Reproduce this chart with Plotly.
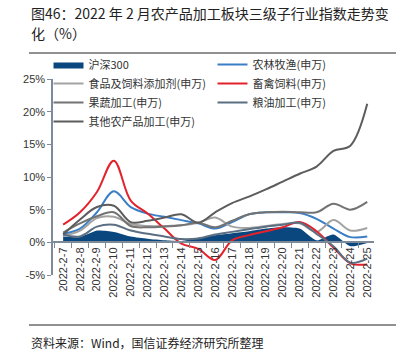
import plotly.graph_objects as go

dates = ["2022-2-7", "2022-2-8", "2022-2-9", "2022-2-10", "2022-2-11", "2022-2-12",
         "2022-2-13", "2022-2-14", "2022-2-15", "2022-2-16", "2022-2-17", "2022-2-18",
         "2022-2-19", "2022-2-20", "2022-2-21", "2022-2-22", "2022-2-23", "2022-2-24",
         "2022-2-25"]

hs300 = [0.9, 0.8, 1.8, 1.6, 0.9, 0.55, 0.3, 0.2, 0.7, 1.1, 1.4, 1.7, 2.1, 2.3, 2.1, 0.3, 1.2, -0.6, -0.1]
nonglin = [1.3, 2.1, 4.6, 7.8, 5.4, 4.4, 3.9, 3.4, 2.9, 2.1, 3.1, 4.3, 4.6, 4.6, 4.5, 3.6, 2.1, 0.8, 0.9]
shipin = [1.0, 1.8, 3.7, 3.9, 2.8, 2.5, 2.5, 2.6, 3.0, 3.8, 2.4, 2.2, 2.5, 2.8, 2.9, 1.6, 3.4, 1.8, 2.2]
chuqin = [2.7, 4.6, 7.7, 12.5, 6.4, 4.4, 2.1, -0.2, -1.0, -2.7, 0.3, 1.1, 1.7, 2.3, 3.1, 1.7, -0.8, -3.2, -3.4]
guoshu = [1.5, 2.9, 4.0, 4.6, 2.5, 2.3, 2.4, 2.6, 3.0, 2.3, 3.3, 4.3, 4.6, 4.7, 4.6, 4.6, 5.9, 5.0, 6.2]
liangyou = [1.2, 0.9, 2.4, 2.7, 1.8, 1.3, 0.9, 0.5, 0.6, 1.2, 1.6, 2.0, 2.4, 2.7, 3.0, 1.3, -0.6, -3.1, -2.5]
qita = [1.2, 3.5, 5.4, 5.6, 3.1, 3.3, 3.8, 4.3, 3.0, 4.6, 6.0, 7.0, 8.1, 9.3, 10.5, 11.6, 14.0, 14.8, 21.2]

y_ticks = [-5, 0, 5, 10, 15, 20, 25]
y_tick_text = ["-5%", "0%", "5%", "10%", "15%", "20%", "25%"]

names = ["沪深300", "农林牧渔(申万)", "食品及饲料添加剂(申万)", "畜禽饲料(申万)",
         "果蔬加工(申万)", "粮油加工(申万)", "其他农产品加工(申万)"]
colors = ["#0b477f", "#3a7ec6", "#a3a3a3", "#e3222b", "#737373", "#5b6f82", "#5c5c5c"]
legend_of = ["legend", "legend2", "legend", "legend2", "legend", "legend2", "legend"]

fig = go.Figure()
fig.add_trace(go.Scatter(x=dates, y=hs300, name=names[0], mode="lines", legend=legend_of[0],
                         line=dict(width=0, color=colors[0], shape="spline", smoothing=0.6),
                         fill="tozeroy", fillcolor=colors[0]))
series = [nonglin, shipin, chuqin, guoshu, liangyou, qita]
for i, s in enumerate(series, start=1):
    fig.add_trace(go.Scatter(x=dates, y=s, name=names[i], mode="lines", legend=legend_of[i],
                             line=dict(width=2, color=colors[i], shape="spline", smoothing=1.0)))

font_cjk = "Noto Sans CJK SC, sans-serif"
leg_common = dict(orientation="v", yanchor="top", xanchor="left",
                  font=dict(size=11, color="#333333", family=font_cjk),
                  bgcolor="rgba(0,0,0,0)", tracegroupgap=0, itemwidth=30,
                  traceorder="normal")
ax_left = -0.014
fig.update_layout(
    width=407, height=351,
    margin=dict(l=53, r=33, t=79, b=76),
    paper_bgcolor="white", plot_bgcolor="white",
    font=dict(family="Liberation Sans, Noto Sans CJK SC, sans-serif", size=11, color="#333333"),
    showlegend=True,
    legend=dict(x=ax_left, y=1.148, **leg_common),
    legend2=dict(x=ax_left + 164/321, y=1.148, **leg_common),
    xaxis=dict(type="category", range=[-0.6, 18.4], anchor="free", position=5/30,
               showline=True, linecolor="#7d8a99", linewidth=1.5,
               ticks="outside", tickson="boundaries", ticklen=5, tickcolor="#7d8a99",
               tickangle=-90, tickfont=dict(size=11, color="#333333"),
               showgrid=False, zeroline=False),
    yaxis=dict(range=[-5, 25], tickmode="array", tickvals=y_ticks, ticktext=y_tick_text,
               showline=True, linecolor="#7d8a99", linewidth=1.5,
               ticks="outside", ticklen=4, tickcolor="#7d8a99",
               tickfont=dict(size=11, color="#333333"),
               showgrid=False, zeroline=False),
    shapes=[
        dict(type="line", xref="paper", yref="paper", x0=(29-53)/321, x1=(396-53)/321,
             y0=(275-53)/196, y1=(275-53)/196, line=dict(color="#222222", width=1)),
        dict(type="line", xref="paper", yref="paper", x0=(29-53)/321, x1=(396-53)/321,
             y0=(275-325)/196, y1=(275-325)/196, line=dict(color="#222222", width=1)),
    ],
    annotations=[
        dict(text="图46：2022 年 2 月农产品加工板块三级子行业指数走势变", xref="paper", yref="paper",
             x=(29-53)/321, xanchor="left", y=(275-13)/196, yanchor="middle",
             showarrow=False, font=dict(size=14, color="#222222", family=font_cjk)),
        dict(text="化（%）", xref="paper", yref="paper",
             x=(29-53)/321, xanchor="left", y=(275-33)/196, yanchor="middle",
             showarrow=False, font=dict(size=14, color="#222222", family=font_cjk)),
        dict(text="资料来源：Wind，国信证券经济研究所整理", xref="paper", yref="paper",
             x=(29-53)/321, xanchor="left", y=(275-342)/196, yanchor="middle",
             showarrow=False, font=dict(size=12, color="#222222", family=font_cjk)),
    ],
)

fig.write_html("out.html")
